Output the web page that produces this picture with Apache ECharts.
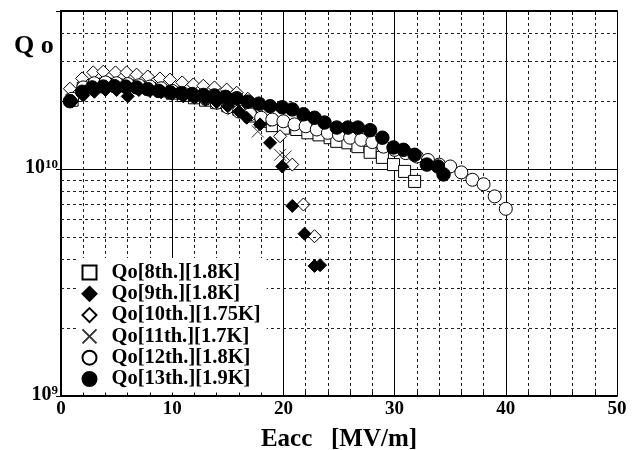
<!DOCTYPE html>
<html>
<head>
<meta charset="utf-8">
<script src="https://cdn.jsdelivr.net/npm/echarts@6/dist/echarts.min.js"></script>
<style>html,body{margin:0;padding:0;background:#fff}#c{width:634px;height:450px}</style>
</head>
<body>
<div id="c"></div>
<script>
// Eacc [MV/m], Qo in units of 1e10
const qo8th = [[1,2.02],[2,2.28],[3,2.36],[4,2.38],[5,2.36],[6,2.34],[7,2.31],[8,2.27],[9,2.22],[10,2.17],[11,2.12],[12,2.07],[13,2.02],[14,1.97],[15,1.91],[16,1.84],[17,1.72],[18,1.63],[19,1.56],[20,1.52],[21.2,1.50],[22.2,1.45],[23.2,1.42],[24.2,1.38],[24.8,1.33],[25.8,1.31],[26.7,1.26],[27.8,1.19],[28.9,1.13],[29.9,1.05],[30.9,0.98],[31.8,0.885]];
const qo9th = [[1,2.0],[2,2.12],[3,2.2],[4,2.24],[5,2.24],[6,2.10],[7,2.24],[8,2.22],[9,2.19],[10,2.15],[11,2.1],[12,2.07],[13,2.03],[14,1.98],[15,1.9],[16,1.8],[16.7,1.69],[17.9,1.58],[18.8,1.31],[19.9,1.03],[20.8,0.69],[21.9,0.52],[22.8,0.375],[23.3,0.378]];
const qo10th = [[0.8,2.27],[1.9,2.52],[2.9,2.68],[3.8,2.70],[4.9,2.68],[5.9,2.68],[6.8,2.62],[7.8,2.57],[8.9,2.52],[9.8,2.49],[10.9,2.42],[11.9,2.37],[12.8,2.34],[13.8,2.30],[14.9,2.25],[15.8,2.18],[16.8,2.05],[17.8,1.88],[18.8,1.65],[19.7,1.40],[20.8,1.05],[21.8,0.70],[22.8,0.507]];
const qo11th = [[1.5,2.2],[3.5,2.45],[5.5,2.45],[7.5,2.38],[9.5,2.3],[11.5,2.18],[13.5,2.05],[15.5,1.84],[17.7,1.47],[19.7,1.16],[20.2,1.14]];
const qo12th = [[1,2.05],[2,2.3],[3,2.4],[4,2.42],[5,2.4],[6,2.38],[7,2.35],[8,2.32],[9,2.28],[10,2.22],[11,2.16],[12,2.1],[13,2.05],[14,1.97],[15,1.88],[16,1.80],[17,1.75],[18,1.69],[19,1.66],[20,1.63],[21,1.58],[22,1.55],[23,1.50],[24,1.45],[25,1.42],[26,1.38],[27,1.35],[28,1.32],[29,1.26],[30,1.22],[31,1.18],[32,1.14],[33,1.10],[34,1.05],[35,1.03],[36,0.97],[37,0.90],[38,0.86],[39,0.76],[40,0.67]];
const qo13th = [[0.8,2.0],[1.9,2.2],[2.8,2.3],[3.8,2.32],[4.8,2.33],[5.8,2.32],[6.8,2.3],[7.8,2.26],[8.8,2.22],[9.8,2.19],[10.8,2.17],[11.8,2.15],[12.8,2.13],[13.8,2.12],[14.8,2.09],[15.8,2.06],[16.8,1.99],[17.8,1.95],[18.8,1.90],[19.9,1.88],[20.8,1.84],[21.8,1.75],[22.8,1.69],[23.7,1.61],[24.8,1.53],[25.8,1.53],[26.7,1.53],[27.8,1.49],[28.9,1.38],[29.9,1.25],[30.8,1.22],[31.8,1.16],[32.9,1.05],[33.9,1.03],[34.4,0.95]];
const seriesNames = ['Qo[8th.][1.8K]','Qo[9th.][1.8K]','Qo[10th.][1.75K]','Qo[11th.][1.7K]','Qo[12th.][1.8K]','Qo[13th.][1.9K]'];
const minorGridQ = [2e9,3e9,4e9,5e9,6e9,7e9,8e9,9e9,2e10,3e10,4e10];
const xRange = [0, 50];
const qRange = [1e9, 5e10];

const SERIF = '"Liberation Serif","DejaVu Serif",serif';
const scale = arr => arr.map(p => [p[0], p[1] * 1e10]);
const crossPath = 'path://M0,0L10,10M10,0L0,10';

function mk(name, data, symbol, size, fill, z, extra) {
  return Object.assign({
    name, type: 'scatter', data: scale(data), symbol, symbolSize: size, z,
    itemStyle: { color: fill, borderColor: '#000', borderWidth: 1, opacity: 1 }
  }, extra || {});
}

const series = [
  mk(seriesNames[0], qo8th, 'rect', 12, '#fff', 2),
  mk(seriesNames[1], qo9th, 'diamond', 13, '#000', 6),
  mk(seriesNames[2], qo10th, 'diamond', 13, '#fff', 4),
  mk(seriesNames[3], qo11th, crossPath, 12, '#000', 3, {itemStyle:{color:'none',borderColor:'#000',borderWidth:1}}),
  mk(seriesNames[4], qo12th, 'circle', 13, '#fff', 5),
  mk(seriesNames[5], qo13th, 'circle', 13.5, '#000', 7),
  {
    name: 'grid', type: 'line', data: [], silent: true, z: 1,
    markLine: {
      silent: true, symbol: 'none', animation: false,
      label: { show: false },
      lineStyle: { color: '#222', type: [3, 3], width: 1 },
      data: minorGridQ.map(v => ({ yAxis: v }))
    }
  }
];

const chart = echarts.init(document.getElementById('c'), null, { renderer: 'canvas' });
chart.setOption({
  animation: false,
  backgroundColor: '#fff',
  grid: { left: 61, right: 17, top: 11, bottom: 54, show: false, containLabel: false, outerBoundsMode: 'none' },
  legend: {
    data: seriesNames, orient: 'vertical', left: 76, top: 258,
    backgroundColor: '#fff', padding: [4, 6, 3, 4],
    itemWidth: 14, itemHeight: 14, itemGap: 0.3,
    textStyle: { fontFamily: SERIF, fontWeight: 'bold', fontSize: 20.5, color: '#000', lineHeight: 18, padding: [0, 0, 0, 10] },
    z: 10
  },
  xAxis: [{
    type: 'value', min: xRange[0], max: xRange[1], interval: 10,
    name: 'Eacc   [MV/m]', nameLocation: 'middle', nameGap: 31,
    nameTextStyle: { fontFamily: SERIF, fontWeight: 'bold', fontSize: 25, color: '#000' },
    axisLine: { show: true, onZero: false, lineStyle: { color: '#000', width: 2 } },
    axisTick: { show: true, inside: true, length: 5, lineStyle: { color: '#000' } },
    minorTick: { show: true, splitNumber: 5, length: 4, lineStyle: { color: '#000' } },
    axisLabel: { fontFamily: SERIF, fontWeight: 'bold', fontSize: 19, color: '#000', margin: 4 },
    splitLine: { show: true, lineStyle: { color: '#000', width: 1 } },
    minorSplitLine: { show: true, lineStyle: { color: '#222', type: [3, 3], width: 1 } }
  }, {
    type: 'value', position: 'top', min: xRange[0], max: xRange[1], interval: 10,
    axisLine: { show: true, lineStyle: { color: '#000', width: 2 } },
    axisTick: { show: true, inside: true, length: 5, lineStyle: { color: '#000' } },
    minorTick: { show: true, splitNumber: 5, length: 4, lineStyle: { color: '#000' } },
    axisLabel: { show: false }, splitLine: { show: false }
  }],
  yAxis: [{
    type: 'log', logBase: 10, min: qRange[0], max: qRange[1],
    axisLine: { show: true, lineStyle: { color: '#000', width: 2 } },
    axisTick: { show: false },
    axisLabel: {
      margin: 3, color: '#000', padding: [0, 0, 3, 0],
      formatter: v => {
        const e = Math.round(Math.log10(v));
        if (Math.abs(Math.log10(v) - e) > 1e-6) return '';
        return '{b|10}{s|' + e + '}';
      },
      rich: {
        b: { fontFamily: SERIF, fontWeight: 'bold', fontSize: 20, color: '#000', lineHeight: 20 },
        s: { fontFamily: SERIF, fontWeight: 'bold', fontSize: 13, color: '#000', verticalAlign: 'top', lineHeight: 13 }
      }
    },
    splitLine: { show: true, lineStyle: { color: '#000', width: 1 } }
  }, {
    type: 'log', logBase: 10, min: qRange[0], max: qRange[1], position: 'right',
    axisLine: { show: true, lineStyle: { color: '#000', width: 2 } },
    axisTick: { show: true, inside: true, length: 5 },
    axisLabel: { show: false }, splitLine: { show: false }
  }],
  graphic: [{
    type: 'text', left: 14, top: 33,
    style: { text: 'Q o', fontFamily: SERIF, fontWeight: 'bold', fontSize: 26, fill: '#000' }
  }],
  series
});
</script>
</body>
</html>
